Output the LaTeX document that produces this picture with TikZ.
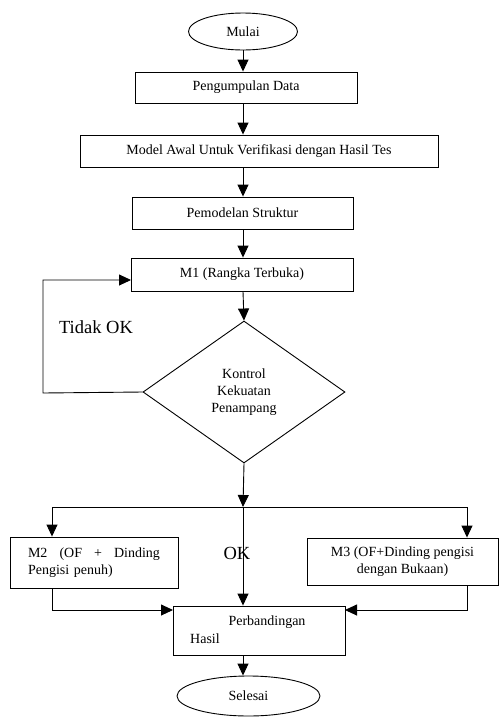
\documentclass[tikz,border=0pt]{standalone}
\usepackage{fontspec}
\setmainfont{Liberation Serif}
\usetikzlibrary{shapes.geometric,arrows.meta}
\begin{document}
\begin{tikzpicture}[x=1pt,y=-1pt,
  box/.style={draw, line width=0.9pt, inner sep=0pt, align=center, font=\fontsize{14}{17}\selectfont},
  conn/.style={line width=0.9pt, -{Triangle[width=11pt,length=12pt]}},
  plain/.style={line width=0.9pt},
  big/.style={font=\fontsize{18.5}{22}\selectfont, inner sep=0pt},
  txt/.style={font=\fontsize{14}{17}\selectfont, inner sep=0pt}]
\useasboundingbox (0,0) rectangle (499,724);
\node[box, ellipse, minimum width=109pt, minimum height=37pt] (mulai) at (243,31.5) {Mulai};
\node[box, minimum width=222pt, minimum height=31pt] (data) at (246,87.5) {Pengumpulan Data};
\node[box, minimum width=358pt, minimum height=32pt] (model) at (259,151) {Model Awal Untuk Verifikasi dengan Hasil Tes};
\node[box, minimum width=221pt, minimum height=32pt] (pemod) at (242.5,213) {Pemodelan Struktur};
\node[box, minimum width=222pt, minimum height=33pt] (m1) at (242,274.5) {M1 (Rangka Terbuka)};
\node[box, diamond, minimum width=202pt, minimum height=142pt] (dia) at (244,392) {Kontrol\\Kekuatan\\Penampang};
\node[box, minimum width=168pt, minimum height=51pt, text width=132pt, align=left] (m2) at (94,562.5) {M2 \hfill(OF \hfill+ \hfill Dinding\\Pengisi penuh)};
\node[box, minimum width=191pt, minimum height=47pt] (m3) at (402.5,561.5) {M3 (OF+Dinding pengisi\\dengan Bukaan)};
\node[box, minimum width=172pt, minimum height=49pt] (perb) at (259,630.5) {};
\node[box, ellipse, minimum width=143pt, minimum height=40pt] (selesai) at (248.5,696) {Selesai};

\node[txt] (tperb) at (267,622) {Perbandingan};
\node[txt] (thasil) at (205,639) {Hasil};
\node[big] (tidak) at (96,327) {Tidak OK};
\node[big] (ok) at (237,553) {OK};

\coordinate (split) at (243,507);
\coordinate (sl) at (52,507);
\coordinate (sr) at (467,507);
\coordinate (lc) at (43,393);
\coordinate (loopin) at (131,280);
\coordinate (pinl) at (173,610);
\coordinate (pinr) at (345,610);

\draw[conn] (mulai.south) -- (mulai.south |- data.north);
\draw[conn] (split |- data.south) -- (split |- model.north);
\draw[conn] (split |- model.south) -- (split |- pemod.north);
\draw[conn] (split |- pemod.south) -- (split |- m1.north);
\draw[conn] (split |- m1.south) -- (dia.north);
\draw[conn] (dia.west) -- (lc) |- (loopin);
\draw[conn] (dia.south) -- (split);
\draw[plain] (sl) -- (sr);
\draw[conn] (sl) -- (sl |- m2.north);
\draw[conn] (sr) -- (sr |- m3.north);
\draw[conn] (split) -- (split |- perb.north);
\draw[conn] (sl |- m2.south) |- (pinl);
\draw[conn] (sr |- m3.south) |- (pinr);
\draw[conn] (split |- perb.south) -- (split |- selesai.north);
\end{tikzpicture}
\end{document}
